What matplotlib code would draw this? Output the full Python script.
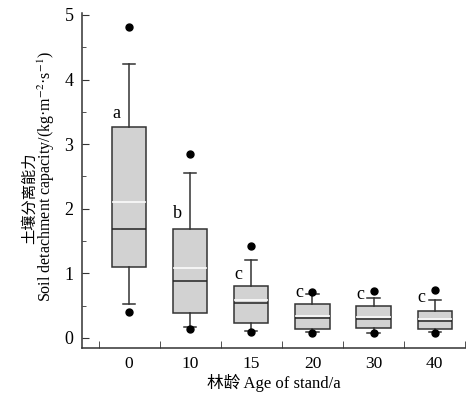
import matplotlib
matplotlib.use('Agg')
import matplotlib.pyplot as plt
from matplotlib.ticker import MultipleLocator

ages = ['0', '10', '15', '20', '30', '40']
q1 = [1.10, 0.39, 0.23, 0.14, 0.15, 0.14]
q3 = [3.27, 1.69, 0.80, 0.53, 0.50, 0.42]
med = [1.69, 0.88, 0.54, 0.31, 0.30, 0.27]
mean = [2.10, 1.08, 0.59, 0.34, 0.33, 0.30]
whislo = [0.53, 0.17, 0.11, 0.09, 0.08, 0.09]
whishi = [4.24, 2.55, 1.21, 0.68, 0.62, 0.59]
flier_hi = [4.81, 2.85, 1.42, 0.71, 0.73, 0.74]
flier_lo = [0.40, 0.14, 0.09, 0.08, 0.07, 0.08]
letters = ['a', 'b', 'c', 'c', 'c', 'c']
letter_y = [3.48, 1.93, 0.99, 0.71, 0.67, 0.63]

plt.rcParams['font.family'] = ['Liberation Serif', 'Noto Sans CJK SC']
plt.rcParams['mathtext.fontset'] = 'stix'

fig = plt.figure(figsize=(4.68, 3.97), dpi=100)
ax = fig.add_axes([0.175, 0.1234, 0.819, 0.8438])

stats = []
for i in range(len(ages)):
    stats.append(dict(label=ages[i], q1=q1[i], q3=q3[i], med=med[i], mean=mean[i],
                      whislo=whislo[i], whishi=whishi[i],
                      fliers=[flier_lo[i], flier_hi[i]]))

pos = list(range(len(ages)))
ax.bxp(stats, positions=pos, widths=0.56, patch_artist=True,
       showmeans=True, meanline=True,
       boxprops=dict(facecolor='#d2d2d2', edgecolor='#333333', linewidth=1.1),
       medianprops=dict(color='#222222', linewidth=1.1),
       meanprops=dict(color='white', linestyle='-', linewidth=1.1),
       whiskerprops=dict(color='#333333', linewidth=1.1),
       capprops=dict(color='#333333', linewidth=1.1),
       capwidths=0.2,
       flierprops=dict(marker='o', markerfacecolor='black', markeredgecolor='black', markersize=5))

for i in range(len(ages)):
    ax.text(pos[i] - 0.21, letter_y[i], letters[i], fontsize=13, ha='center', va='center')

ax.set_xlim(-0.774, 5.40)
ax.set_ylim(-0.155, 5.03)
ax.spines['top'].set_visible(False)
ax.spines['right'].set_visible(False)
for s in ['left', 'bottom']:
    ax.spines[s].set_color('#333333')
    ax.spines[s].set_linewidth(1.1)

ax.set_xticks(pos)
ax.set_xticklabels(ages)
ax.set_xticks([p - 0.5 for p in pos] + [pos[-1] + 0.5], minor=True)
ax.tick_params(axis='x', which='major', length=0, labelsize=12.5, pad=6)
ax.tick_params(axis='x', which='minor', direction='in', length=5, color='#333333')
ax.yaxis.set_major_locator(MultipleLocator(1))
ax.yaxis.set_minor_locator(MultipleLocator(0.5))
ax.tick_params(axis='y', which='major', direction='in', length=5, labelsize=13, color='#333333', pad=6)
ax.tick_params(axis='y', which='minor', direction='in', length=3, color='#333333')

ax.set_xlabel('林龄 Age of stand/a', fontsize=12, labelpad=1)
fig.text(0.063, 0.50, '土壤分离能力', rotation=90, fontsize=11, ha='center', va='center')
fig.text(0.100, 0.556, 'Soil detachment capacity/(kg·m$^{-2}$·s$^{-1}$)', rotation=90,
         fontsize=11.5, ha='center', va='center')

fig.savefig('out.png', dpi=100)
